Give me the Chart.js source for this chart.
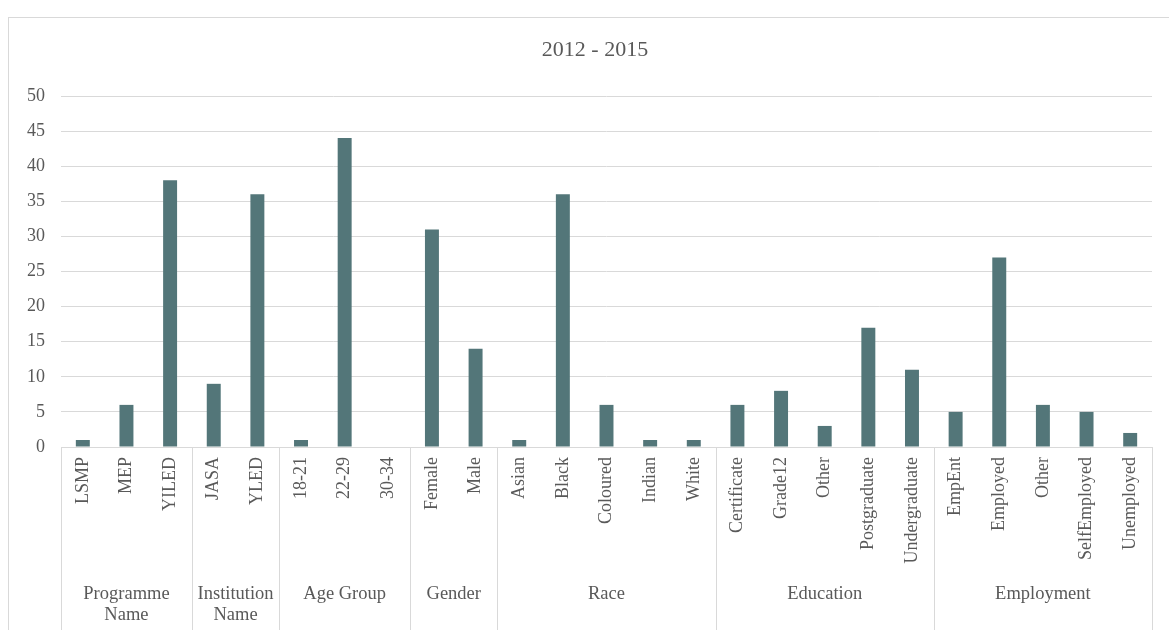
<!DOCTYPE html>
<html>
<head>
<meta charset="utf-8">
<script src="https://cdn.jsdelivr.net/npm/chart.js@4/dist/chart.umd.min.js"></script>
<style>
    html, body { margin: 0; padding: 0; background: #fff; }
    #wrap { width: 1169px; height: 630px; }
</style>
</head>
<body>
<div id="wrap"><canvas id="resultChart" width="1169" height="630"></canvas></div>
<script>
// categories and values
var categories = ["LSMP", "MEP", "YILED", "JASA", "YLED", "18-21", "22-29", "30-34",
    "Female", "Male", "Asian", "Black", "Coloured", "Indian", "White",
    "Certificate", "Grade12", "Other", "Postgraduate", "Undergraduate",
    "EmpEnt", "Employed", "Other", "SelfEmployed", "Unemployed"];
var counts = [1, 6, 38, 9, 36, 1, 44, 0, 31, 14, 1, 36, 6, 1, 1, 6, 8, 3, 17, 11, 5, 27, 6, 5, 2];
var groupNames = [["Programme", "Name"], ["Institution", "Name"], ["Age Group"], ["Gender"], ["Race"], ["Education"], ["Employment"]];
var groupSizes = [3, 2, 3, 2, 5, 5, 5];
var yTicks = [0, 5, 10, 15, 20, 25, 30, 35, 40, 45, 50];
var chartTitle = "2012 - 2015";

var textColor = "#595959";
var lineColor = "#d9d9d9";
var fontFamily = "'Liberation Serif', 'Times New Roman', serif";

// draws the outer frame, title, group separators and group names
var groupAxis = {
    id: "groupAxis",
    beforeDraw: function (chart) {
        var ctx = chart.ctx;
        ctx.save();
        ctx.strokeStyle = lineColor;
        ctx.lineWidth = 1;
        ctx.strokeRect(8.5, 17.5, 1300, 800);
        ctx.fillStyle = textColor;
        ctx.font = "22px " + fontFamily;
        ctx.textAlign = "center";
        ctx.textBaseline = "middle";
        ctx.fillText(chartTitle, 595, 50);
        ctx.restore();
    },
    afterDraw: function (chart) {
        var ctx = chart.ctx;
        var x = chart.scales.x;
        var area = chart.chartArea;
        var half = (x.getPixelForValue(1) - x.getPixelForValue(0)) / 2;
        var start = 0;

        ctx.save();
        ctx.strokeStyle = lineColor;
        ctx.lineWidth = 1;
        ctx.fillStyle = textColor;
        ctx.font = "18.5px " + fontFamily;
        ctx.textAlign = "center";
        ctx.textBaseline = "middle";

        for (var g = 0; g < groupSizes.length; g++) {
            var left = x.getPixelForValue(start) - half;
            var right = x.getPixelForValue(start + groupSizes[g] - 1) + half;
            var lx = Math.round(left) + 0.5;
            ctx.beginPath();
            ctx.moveTo(lx, area.bottom);
            ctx.lineTo(lx, 640);
            ctx.stroke();
            if (g === groupSizes.length - 1) {
                var rx = Math.round(right) + 0.5;
                ctx.beginPath();
                ctx.moveTo(rx, area.bottom);
                ctx.lineTo(rx, 640);
                ctx.stroke();
            }
            var lines = groupNames[g];
            for (var l = 0; l < lines.length; l++) {
                ctx.fillText(lines[l], (left + right) / 2, 594 + l * 21);
            }
            start += groupSizes[g];
        }
        ctx.restore();
    }
};

var ctx = document.getElementById("resultChart");

var barChart = new Chart(ctx, {
    type: "bar",
    data: {
        labels: categories,
        datasets: [{
            data: counts,
            backgroundColor: "#537679",
            barPercentage: 0.32,
            categoryPercentage: 1
        }]
    },
    options: {
        responsive: false,
        animation: false,
        layout: { padding: { left: 0, right: 17, top: 96, bottom: 0 } },
        plugins: {
            legend: { display: false },
            tooltip: { enabled: false },
            title: { display: false }
        },
        scales: {
            x: {
                grid: { display: false, drawTicks: false },
                border: { display: true, color: lineColor },
                ticks: {
                    color: textColor,
                    font: { family: fontFamily, size: 18 },
                    minRotation: 90,
                    maxRotation: 90,
                    autoSkip: false,
                    padding: 10
                },
                afterFit: function (scale) { scale.height = 183; }
            },
            y: {
                min: 0,
                max: 50,
                afterBuildTicks: function (scale) {
                    scale.ticks = yTicks.map(function (v) { return { value: v }; });
                },
                grid: { color: lineColor, drawTicks: false },
                border: { display: false },
                ticks: {
                    color: textColor,
                    font: { family: fontFamily, size: 18 },
                    padding: 16
                },
                afterFit: function (scale) { scale.width = 61; }
            }
        }
    },
    plugins: [groupAxis]
});
</script>
</body>
</html>
